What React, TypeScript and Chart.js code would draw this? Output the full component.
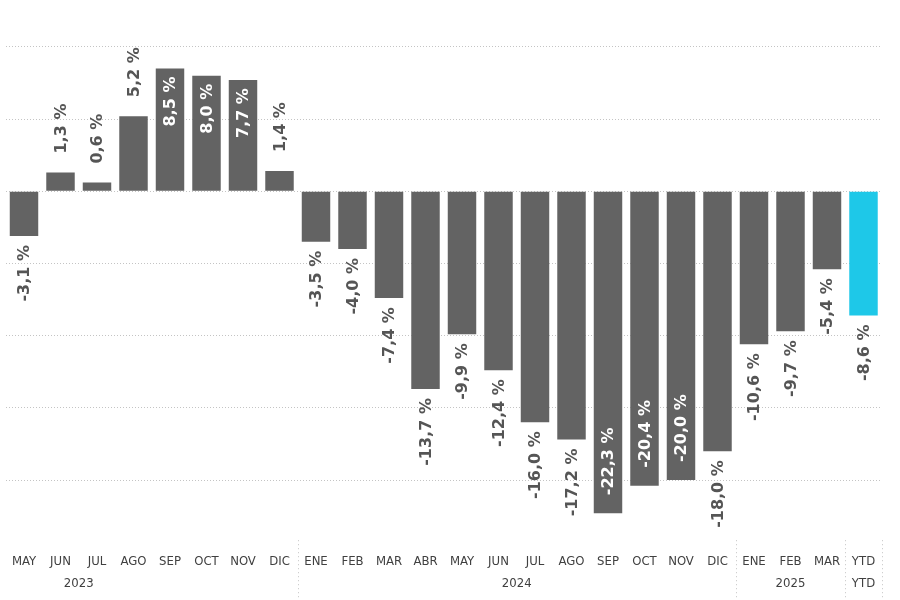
import React, { useEffect, useRef } from 'react';
import { Chart, registerables } from 'chart.js';

Chart.register(...registerables);

// Month categories (MAY 2023 … MAR 2025, then YTD)
const categories = [
  'MAY', 'JUN', 'JUL', 'AGO', 'SEP', 'OCT', 'NOV', 'DIC',
  'ENE', 'FEB', 'MAR', 'ABR', 'MAY', 'JUN', 'JUL', 'AGO', 'SEP', 'OCT', 'NOV', 'DIC',
  'ENE', 'FEB', 'MAR',
  'YTD',
];

// Variation in %
const values = [
  -3.1, 1.3, 0.6, 5.2, 8.5, 8.0, 7.7, 1.4,
  -3.5, -4.0, -7.4, -13.7, -9.9, -12.4, -16.0, -17.2, -22.3, -20.4, -20.0, -18.0,
  -10.6, -9.7, -5.4,
  -8.6,
];

// Hierarchical (year) axis: label and first/last category index of each group
// (the 2023 group starts 4 months before the first visible month; ENE–ABR 2023 are scrolled out of view)
const yearLabels = ['2023', '2024', '2025', 'YTD'];
const yearFirstIndex = [-4, 8, 20, 23];
const yearLastIndex = [7, 19, 22, 23];

const highlightCategory = 'YTD';

const BAR_GRAY = '#636363';
const BAR_CYAN = '#1EC8E8';
const LABEL_DARK = '#555555';
const AXIS_TEXT = '#404040';
const GRID = '#c4c4c4';
const AXIS_FONT = "'Liberation Sans Narrow', 'DejaVu Sans Condensed', 'Liberation Sans', sans-serif";
const LABEL_FONT = "bold 16px 'DejaVu Sans', sans-serif";

const fmt = (v: number) => v.toFixed(1).replace('.', ',') + ' %';

const barLabelsPlugin = {
  id: 'barLabels',
  afterDatasetsDraw(chart: any) {
    const { ctx, chartArea } = chart;
    const meta = chart.getDatasetMeta(0);
    ctx.save();
    ctx.font = LABEL_FONT;
    ctx.textBaseline = 'middle';
    meta.data.forEach((bar: any, i: number) => {
      const v = values[i];
      if (v === null || v === undefined) return;
      const { x, y } = bar.getProps(['x', 'y'], true);
      const text = fmt(v);
      const w = ctx.measureText(text).width;
      let anchor: number;
      let align: CanvasTextAlign;
      let color: string;
      if (v >= 0) {
        const outsideTop = y - 19 - w;
        if (outsideTop < chartArea.top + 20) {
          anchor = y + 8; align = 'right'; color = '#ffffff';
        } else {
          anchor = y - 19; align = 'left'; color = LABEL_DARK;
        }
      } else {
        const outsideBottom = y + 9 + w;
        if (outsideBottom > chartArea.bottom) {
          anchor = y - 18; align = 'left'; color = '#ffffff';
        } else {
          anchor = y + 9; align = 'right'; color = LABEL_DARK;
        }
      }
      ctx.save();
      ctx.translate(x + 1, anchor);
      ctx.rotate(-Math.PI / 2);
      ctx.textAlign = align;
      ctx.fillStyle = color;
      ctx.fillText(text, 0, 0);
      ctx.restore();
    });
    ctx.restore();
  },
};

const yearAxisPlugin = {
  id: 'yearAxis',
  afterDraw(chart: any) {
    const { ctx, chartArea } = chart;
    const xs = chart.scales.x;
    ctx.save();
    // group separators
    ctx.strokeStyle = GRID;
    ctx.lineWidth = 1;
    ctx.setLineDash([1, 3]);
    yearLastIndex.forEach((last) => {
      const px = Math.round(xs.getPixelForValue(last + 0.5)) + 0.5;
      ctx.beginPath();
      ctx.moveTo(px, chartArea.bottom - 12);
      ctx.lineTo(px, chart.height);
      ctx.stroke();
    });
    ctx.setLineDash([]);
    // year labels
    ctx.font = `13px ${AXIS_FONT}`;
    ctx.fillStyle = AXIS_TEXT;
    ctx.textAlign = 'center';
    ctx.textBaseline = 'middle';
    yearLabels.forEach((lab, g) => {
      const center = (yearFirstIndex[g] + yearLastIndex[g]) / 2;
      const px = xs.getPixelForValue(center);
      ctx.fillText(lab, px, chartArea.bottom + 31.5);
    });
    ctx.restore();
  },
};

export default function App() {
  const canvasRef = useRef<HTMLCanvasElement | null>(null);

  useEffect(() => {
    if (!canvasRef.current) return;
    const chart = new Chart(canvasRef.current, {
      type: 'bar',
      data: {
        labels: categories,
        datasets: [
          {
            data: values,
            backgroundColor: categories.map((c) => (c === highlightCategory ? BAR_CYAN : BAR_GRAY)),
            barPercentage: 0.78,
            categoryPercentage: 1,
            borderWidth: 0,
          },
        ],
      },
      options: {
        animation: false,
        responsive: true,
        maintainAspectRatio: false,
        layout: { padding: { left: 5.75, right: 18.25, top: 3.6, bottom: 28.2 } },
        plugins: {
          legend: { display: false },
          tooltip: { enabled: false },
          title: { display: false },
        },
        scales: {
          x: {
            grid: { display: false, drawTicks: false },
            border: { display: false },
            ticks: {
              autoSkip: false,
              maxRotation: 0,
              minRotation: 0,
              padding: 2,
              color: AXIS_TEXT,
              font: { family: AXIS_FONT, size: 13 },
            },
          },
          y: {
            min: -25,
            max: 13,
            ticks: { display: false, stepSize: 5 },
            border: { display: false, dash: [1, 2] },
            grid: {
              drawTicks: false,
              lineWidth: 1,
              color: (ctx: any) => {
                const v = ctx.tick ? ctx.tick.value : 0;
                return v % 5 === 0 && v > -25 ? GRID : 'rgba(0,0,0,0)';
              },
            },
          },
        },
      },
      plugins: [barLabelsPlugin, yearAxisPlugin],
    });
    return () => chart.destroy();
  }, []);

  return (
    <div style={{ position: 'absolute', left: 0, top: 0, width: 900, height: 600, background: '#ffffff' }}>
      <canvas ref={canvasRef} />
    </div>
  );
}
